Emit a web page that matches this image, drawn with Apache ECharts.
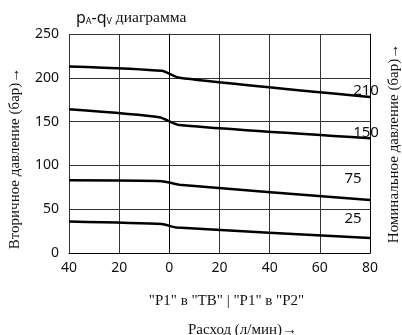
<!DOCTYPE html>
<html>
<head>
<meta charset="utf-8">
<script src="https://cdn.jsdelivr.net/npm/echarts@6/dist/echarts.min.js"></script>
<style>
  html, body { margin: 0; padding: 0; background: #fff; }
  #chart { width: 402px; height: 335px; }
</style>
</head>
<body>
<div id="chart"></div>
<script>
// flow (negative = "P1" в "TB"), secondary pressure in bar
var flow210 = [-40, -3, 4, 80];
var p210 = [213, 208, 200, 178];
var flow150 = [-40, -4, 4, 80];
var p150 = [164, 155, 146, 131];
var flow75 = [-40, -3, 4, 80];
var p75 = [83, 82, 78, 60.5];
var flow25 = [-40, -3, 3, 80];
var p25 = [36, 33, 29, 17];
var nominal = ["210", "150", "75", "25"];

var serif = "Liberation Serif";
var sans = "Noto Sans";

var chart = echarts.init(document.getElementById("chart"));

function pairs(xs, ys) {
  return xs.map(function (x, i) { return [x, ys[i]]; });
}

function curve(name, xs, ys, off) {
  return {
    name: name,
    type: "line",
    data: pairs(xs, ys),
    symbol: "none",
    smooth: 0.2,
    lineStyle: { color: "#000", width: 2.5 },
    endLabel: {
      show: true,
      formatter: name,
      distance: 0,
      align: "center",
      verticalAlign: "middle",
      offset: off,
      fontFamily: sans,
      fontSize: 15,
      color: "#111"
    }
  };
}

var option = {
  animation: false,
  title: [
    {
      text: "{p|p}{s|A}{p|-q}{s|V}{t| диаграмма}",
      left: 71,
      top: 5,
      textStyle: {
        fontWeight: "normal",
        rich: {
          p: { fontFamily: sans, fontSize: 16, fontWeight: "normal", color: "#111" },
          s: { fontFamily: sans, fontSize: 9, fontWeight: "normal", color: "#111", verticalAlign: "bottom", padding: [5, 0, 0, 0] },
          t: { fontFamily: serif, fontSize: 15.5, fontWeight: "normal", color: "#111" }
        }
      }
    },
    {
      text: "Расход (л/мин)→",
      left: 183,
      top: 318,
      textStyle: { fontFamily: serif, fontSize: 15, fontWeight: "normal", color: "#111" }
    }
  ],
  grid: { left: 69, right: 32, top: 34, bottom: 82, outerBoundsMode: "none" },
  xAxis: {
    type: "value",
    min: -40,
    max: 80,
    interval: 20,
    name: '"P1" в "TB" | "P1" в "P2"',
    nameLocation: "middle",
    nameGap: 41,
    nameTextStyle: { fontFamily: serif, fontSize: 15, color: "#111", padding: [0, 0, 0, 14] },
    axisLine: { lineStyle: { color: "#000", width: 1 } },
    axisTick: { show: false },
    axisLabel: {
      fontFamily: sans, fontSize: 14, color: "#111", margin: 8,
      formatter: function (v) { return Math.abs(v); }
    },
    splitLine: { show: true, lineStyle: { color: "#333", width: 1 } }
  },
  yAxis: [
    {
      type: "value",
      min: 0,
      max: 250,
      interval: 50,
      name: "Вторичное давление (бар)→",
      nameLocation: "middle",
      nameRotate: 90,
      nameGap: 46,
      nameTextStyle: { fontFamily: serif, fontSize: 15, color: "#111", padding: [0, 30, 0, 0] },
      axisLine: { show: true, lineStyle: { color: "#000", width: 1 } },
      axisTick: { show: false },
      axisLabel: { fontFamily: sans, fontSize: 14, color: "#111", margin: 10 },
      splitLine: { show: true, lineStyle: { color: "#333", width: 1 } }
    },
    {
      type: "value",
      position: "right",
      min: 0,
      max: 250,
      interval: 50,
      name: "Номинальное давление (бар)→",
      nameLocation: "middle",
      nameRotate: 90,
      nameGap: 17,
      nameTextStyle: { fontFamily: serif, fontSize: 15, color: "#111" },
      axisLine: { show: true, lineStyle: { color: "#000", width: 1 } },
      axisTick: { show: false },
      axisLabel: { show: false },
      splitLine: { show: false }
    }
  ],
  series: [
    curve(nominal[0], flow210, p210, [-4, -6]),
    curve(nominal[1], flow150, p150, [-4, -6]),
    curve(nominal[2], flow75, p75, [-17, -21]),
    curve(nominal[3], flow25, p25, [-17, -19])
  ]
};

chart.setOption(option);
</script>
</body>
</html>
